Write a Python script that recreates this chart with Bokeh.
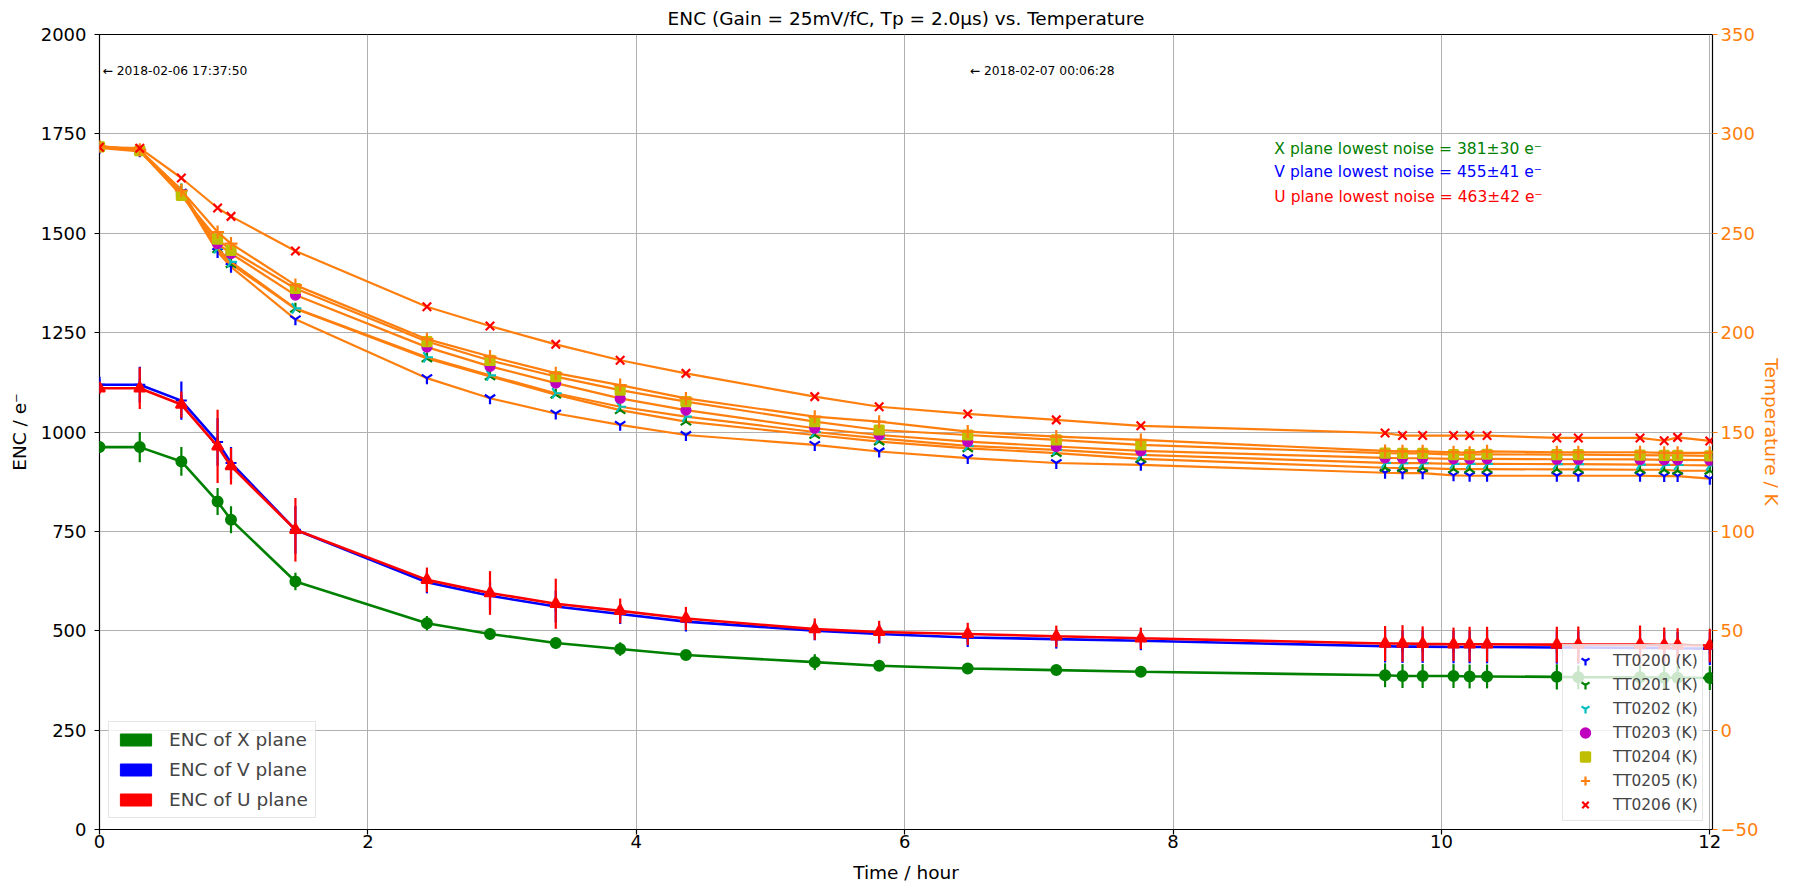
import math
from bokeh.plotting import figure
from bokeh.models import Range1d, LinearAxis, FixedTicker, Legend, LegendItem, Label
from bokeh.embed import file_html
from bokeh.resources import INLINE

# ---------------- data ----------------
hours = [0.00, 0.30, 0.61, 0.88, 0.98, 1.46, 2.44, 2.91, 3.40, 3.88, 4.37, 5.33, 5.81, 6.47,
         7.13, 7.76, 9.58, 9.71, 9.86, 10.09, 10.21, 10.34, 10.86, 11.02, 11.48, 11.66, 11.76, 12.00]

tt0200 = [293.0, 291.2, 270.5, 240.6, 233.1, 206.7, 177.1, 167.0, 159.3, 153.6, 148.5, 143.5, 140.2, 136.9,
          134.4, 133.5, 129.5, 129.3, 129.3, 128.2, 128.0, 128.0, 128.0, 128.0, 128.0, 127.8, 127.8, 126.5]
tt0201 = [293.5, 291.5, 272.0, 242.0, 234.5, 212.0, 187.0, 178.0, 168.8, 161.0, 155.2, 148.5, 145.2, 141.8,
          139.4, 136.5, 132.0, 131.8, 131.8, 131.3, 131.3, 131.3, 131.2, 131.2, 131.0, 131.0, 130.5, 130.5]
tt0202 = [293.8, 291.8, 271.0, 242.5, 235.6, 212.2, 187.6, 178.5, 169.5, 162.7, 157.7, 150.0, 146.8, 143.0,
          141.0, 138.5, 134.5, 134.3, 134.3, 134.0, 134.0, 134.0, 133.8, 133.8, 133.6, 133.5, 133.4, 133.2]
tt0203 = [293.5, 291.5, 269.5, 244.8, 239.8, 218.9, 192.7, 183.0, 174.6, 166.9, 161.0, 151.9, 148.5, 145.2,
          142.7, 140.5, 137.0, 136.8, 136.8, 136.5, 136.5, 136.5, 136.3, 136.3, 136.2, 136.0, 136.0, 135.8]
tt0204 = [293.5, 291.5, 269.0, 247.0, 241.4, 222.2, 195.5, 186.0, 177.9, 171.1, 165.3, 155.2, 151.0, 148.5,
          146.0, 143.5, 139.4, 139.2, 139.2, 138.6, 138.6, 138.8, 138.6, 138.6, 138.4, 138.2, 138.2, 138.0]
tt0205 = [293.8, 292.0, 271.5, 250.6, 244.8, 223.9, 196.7, 188.0, 179.6, 173.6, 166.9, 157.7, 155.2, 150.2,
          147.7, 146.0, 140.5, 140.3, 140.3, 139.8, 139.6, 140.3, 139.8, 139.8, 139.8, 139.5, 139.5, 139.5]
tt0206 = [293.3, 292.8, 277.8, 262.7, 258.5, 241.1, 213.0, 203.3, 194.1, 186.1, 179.5, 167.8, 162.7, 159.1,
          156.1, 153.1, 149.5, 148.2, 148.2, 148.2, 148.2, 148.2, 147.0, 147.0, 147.0, 145.6, 147.3, 145.5]

enc_x = [962, 962, 926, 825, 779, 624, 519, 492, 469, 454, 439, 421, 412, 405,
         401, 397, 388, 386, 386, 386, 385, 385, 384, 383, 383, 382, 382, 381]
enc_x_err = [15, 38, 36, 34, 34, 22, 18, 14, 14, 17, 12, 20, 12, 12,
             10, 10, 30, 30, 30, 30, 30, 30, 32, 30, 30, 30, 30, 30]
enc_v = [1119, 1119, 1079, 975, 922, 754, 622, 588, 561, 542, 523, 500, 492, 483,
         479, 475, 461, 460, 460, 459, 459, 459, 458, 458, 457, 457, 456, 455]
enc_v_err = [20, 45, 48, 60, 40, 60, 28, 35, 40, 25, 25, 24, 24, 24,
             24, 24, 41, 41, 41, 41, 41, 41, 41, 41, 41, 41, 41, 41]
enc_u = [1110, 1110, 1069, 964, 914, 754, 628, 595, 568, 550, 531, 504, 497, 492,
         486, 481, 468, 468, 467, 466, 466, 466, 465, 465, 465, 464, 464, 463]
enc_u_err = [15, 52, 33, 92, 46, 80, 31, 55, 63, 31, 29, 27, 28, 28,
             27, 27, 44, 46, 44, 42, 44, 44, 45, 46, 48, 44, 42, 42]

sensor_names = ["TT0200 (K)", "TT0201 (K)", "TT0202 (K)", "TT0203 (K)", "TT0204 (K)", "TT0205 (K)", "TT0206 (K)"]
plane_names = ["ENC of X plane", "ENC of V plane", "ENC of U plane"]
noise_texts = ["X plane lowest noise = 381\u00b130 e\u207b",
               "V plane lowest noise = 455\u00b141 e\u207b",
               "U plane lowest noise = 463\u00b142 e\u207b"]
date_texts = ["\u2190 2018-02-06 17:37:50", "\u2190 2018-02-07 00:06:28"]

# ---------------- figure ----------------
FONT = "DejaVu Sans"
ORANGE = "#ff7f0e"
GREEN = "#008000"
BLUE = "#0000ff"
RED = "#ff0000"

p = figure(width=1793, height=887, x_range=Range1d(0, 12.02), y_range=Range1d(0, 2000),
           output_backend="svg", toolbar_location=None,
           min_border_left=99, min_border_right=81, min_border_top=34, min_border_bottom=58)
p.extra_y_ranges = {"temp": Range1d(-50, 350)}

p.title.text = "ENC (Gain = 25mV/fC, Tp = 2.0\u03bcs) vs. Temperature"
p.title.text_font = FONT
p.title.text_font_size = "18.5px"
p.title.text_font_style = "normal"
p.title.align = "center"
p.title.standoff = 11
p.title.text_color = "black"

p.outline_line_color = "black"
p.outline_line_width = 1.2
p.background_fill_color = "white"
p.border_fill_color = "white"

p.xaxis.ticker = FixedTicker(ticks=[0, 2, 4, 6, 8, 10, 12])
p.yaxis.ticker = FixedTicker(ticks=list(range(0, 2001, 250)))
p.xaxis.axis_label = "Time / hour"
p.yaxis.axis_label = "ENC / e\u207b"

rax = LinearAxis(y_range_name="temp", ticker=FixedTicker(ticks=list(range(-50, 351, 50))),
                 axis_label="Temperature / K")
rax.major_label_overrides = {-50: "\u221250"}
p.add_layout(rax, "right")

for ax in [p.xaxis[0], p.yaxis[0], rax]:
    ax.axis_line_color = None
    ax.major_tick_in = 0
    ax.major_tick_out = 5
    ax.minor_tick_in = 0
    ax.minor_tick_out = 0
    ax.major_label_text_font = FONT
    ax.major_label_text_font_size = "18px"
    ax.axis_label_text_font = FONT
    ax.axis_label_text_font_size = "18.5px"
    ax.axis_label_text_font_style = "normal"
    ax.major_tick_line_width = 1.2

for ax in [p.xaxis[0], p.yaxis[0]]:
    ax.major_label_text_color = "black"
    ax.axis_label_text_color = "black"
    ax.major_tick_line_color = "black"

p.yaxis[0].major_label_standoff = 8
p.yaxis[0].axis_label_standoff = 8
p.xaxis[0].major_label_standoff = 0
p.xaxis[0].axis_label_standoff = 11
rax.major_label_text_color = ORANGE
rax.axis_label_text_color = ORANGE
rax.major_tick_line_color = ORANGE
rax.major_label_standoff = 3
rax.axis_label_standoff = 0

p.xgrid.grid_line_color = "#b0b0b0"
p.ygrid.grid_line_color = "#b0b0b0"
p.xgrid.grid_line_width = 1
p.ygrid.grid_line_width = 1

# ---------------- temperature series ----------------
temp_series = [
    (tt0200, "y", BLUE, 0.0, 12),
    (tt0201, "y", GREEN, math.pi, 12),
    (tt0202, "y", "#00bfbf", math.pi / 2, 12),
    (tt0203, "circle", "#bf00bf", 0.0, 9),
    (tt0204, "square", "#bfbf00", 0.0, 9),
    (tt0205, "cross", ORANGE, 0.0, 13),
    (tt0206, "x", RED, 0.0, 12),
]
temp_items = []
for name, (vals, marker, color, ang, sz) in zip(sensor_names, temp_series):
    p.line(hours, vals, y_range_name="temp", line_color=ORANGE, line_width=2.2)
    r = p.scatter(hours, vals, y_range_name="temp", marker=marker, size=sz, angle=ang,
                  line_color=color, fill_color=color, line_width=2.2)
    temp_items.append(LegendItem(label=name, renderers=[r]))

# ---------------- ENC series ----------------
enc_series = [
    (enc_x, enc_x_err, GREEN, "circle", 10),
    (enc_v, enc_v_err, BLUE, "cross", 11),
    (enc_u, enc_u_err, RED, "triangle", 11),
]
for vals, errs, color, marker, sz in enc_series:
    lo = [v - e for v, e in zip(vals, errs)]
    hi = [v + e for v, e in zip(vals, errs)]
    p.segment(x0=hours, y0=lo, x1=hours, y1=hi, line_color=color, line_width=2.2)
    p.line(hours, vals, line_color=color, line_width=2.6)
    p.scatter(hours, vals, marker=marker, size=sz, fill_color=color, line_color=color, line_width=2)

# ---------------- legends ----------------
nan = float("nan")
patch_items = []
for name, color in zip(plane_names, [GREEN, BLUE, RED]):
    r = p.quad(left=[nan], right=[nan], top=[nan], bottom=[nan], fill_color=color, line_color=color)
    patch_items.append(LegendItem(label=name, renderers=[r], index=0))

leg1 = Legend(items=patch_items, location=(9, 11), label_text_font=FONT, label_text_font_size="18.5px",
              glyph_width=39, glyph_height=15, label_height=15, spacing=9, padding=7,
              label_standoff=14, margin=0, border_line_color="#cccccc", border_line_width=1,
              background_fill_color="white", background_fill_alpha=0.8)
p.add_layout(leg1)

leg2 = Legend(items=temp_items, location=(1463, 8), label_text_font=FONT, label_text_font_size="15.4px",
              glyph_width=36, glyph_height=23, label_height=23, spacing=1, padding=4,
              label_standoff=10, margin=0, border_line_color="#cccccc", border_line_width=1,
              background_fill_color="white", background_fill_alpha=0.8)
p.add_layout(leg2)

# ---------------- annotations ----------------
for txt, yv, col in zip(noise_texts, [1713, 1653, 1592], [GREEN, BLUE, RED]):
    p.add_layout(Label(x=8.755, y=yv, text=txt, text_color=col, text_font=FONT,
                       text_font_size="15.5px", text_baseline="middle"))

p.add_layout(Label(x=hours[0], y=1908, x_offset=3, text=date_texts[0], text_font=FONT,
                   text_font_size="12.3px", text_baseline="middle", text_color="black"))
p.add_layout(Label(x=hours[13], y=1908, x_offset=2, text=date_texts[1], text_font=FONT,
                   text_font_size="12.3px", text_baseline="middle", text_color="black"))

open("out.html", "w").write(file_html(p, INLINE))
